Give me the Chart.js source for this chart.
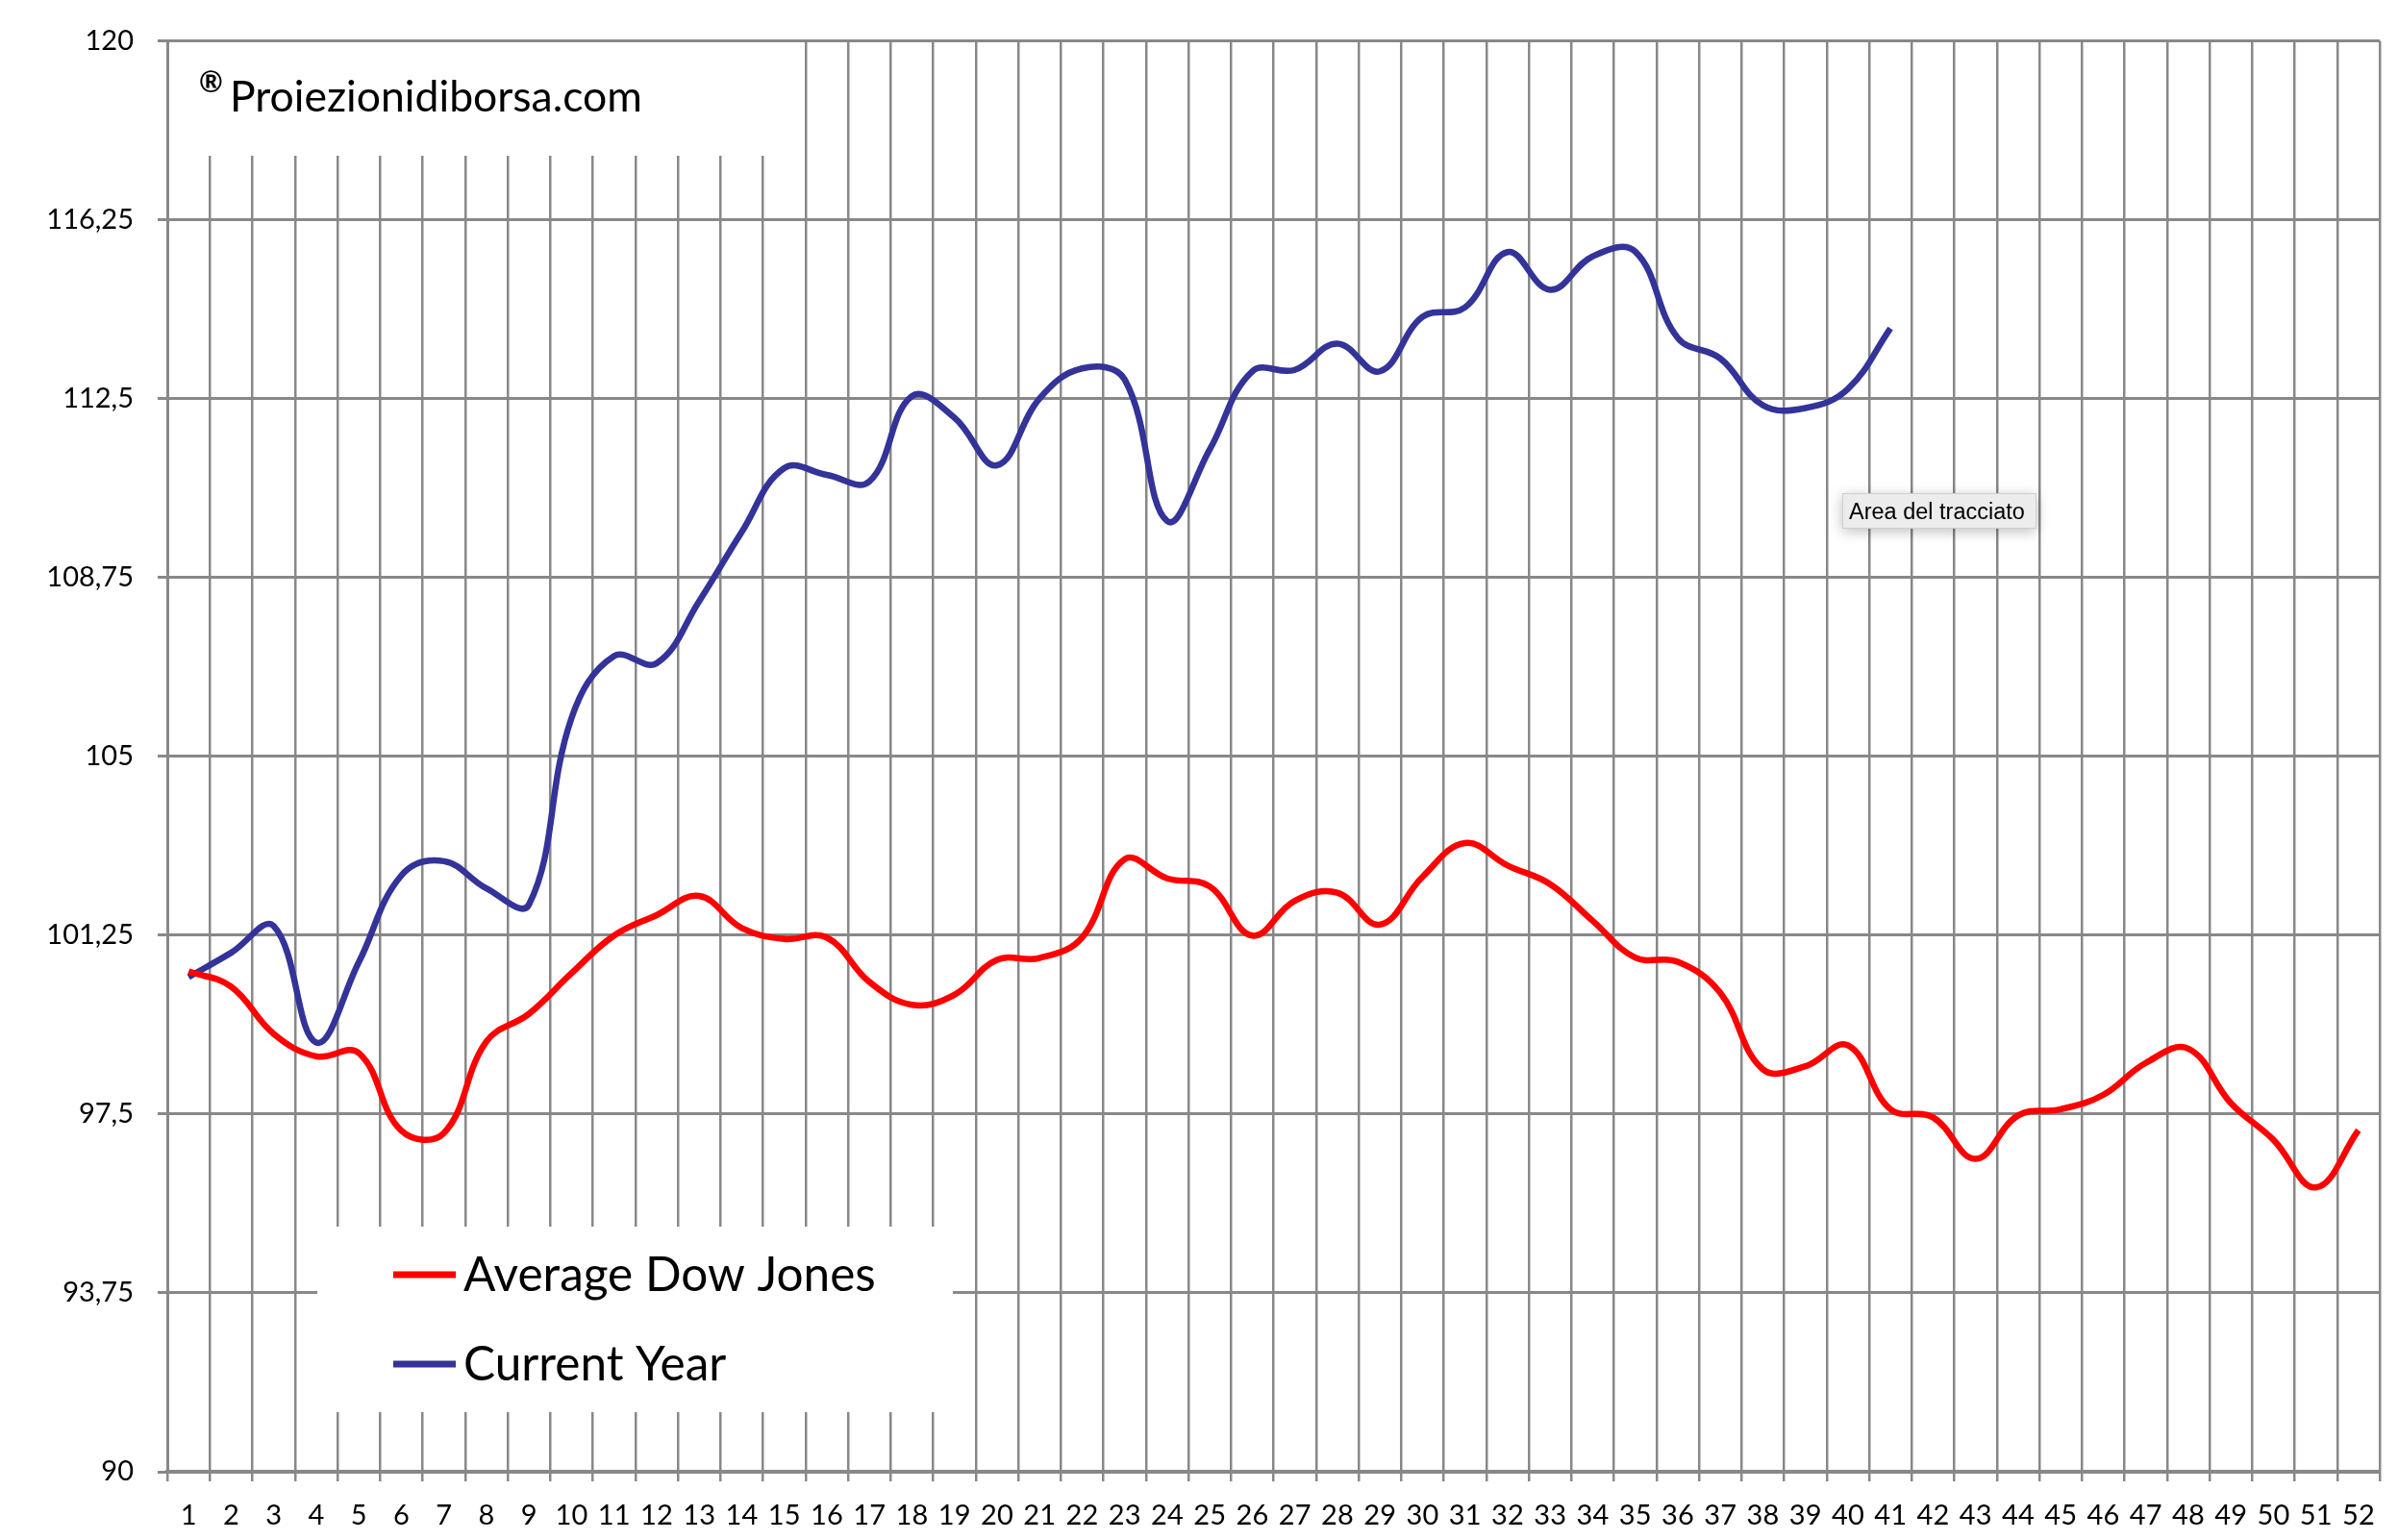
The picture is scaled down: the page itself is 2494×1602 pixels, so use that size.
<!DOCTYPE html>
<html>
<head>
<meta charset="utf-8">
<title>Average Dow Jones vs Current Year</title>
<script src="https://cdn.jsdelivr.net/npm/chart.js@4.4.1/dist/chart.umd.min.js"></script>
<style>
    html, body { margin: 0; padding: 0; background: #ffffff; }
    canvas { display: block; }
</style>
</head>
<body>
<canvas id="myChart" width="2494" height="1602" style="width:2494px;height:1602px"></canvas>
<script>
var weeks = ["1", "2", "3", "4", "5", "6", "7", "8", "9", "10", "11", "12", "13",
    "14", "15", "16", "17", "18", "19", "20", "21", "22", "23", "24", "25", "26",
    "27", "28", "29", "30", "31", "32", "33", "34", "35", "36", "37", "38", "39",
    "40", "41", "42", "43", "44", "45", "46", "47", "48", "49", "50", "51", "52"];

var averageDowJones = [100.49, 100.17, 99.18, 98.71, 98.78, 97.15, 97.1, 99.02, 99.6, 100.45,
    101.24, 101.67, 102.07, 101.4, 101.17, 101.2, 100.27, 99.79, 100.0, 100.73,
    100.77, 101.2, 102.84, 102.44, 102.27, 101.24, 101.97, 102.14, 101.47, 102.47,
    103.18, 102.71, 102.32, 101.55, 100.78, 100.69, 100.04, 98.44, 98.5, 98.94,
    97.6, 97.43, 96.56, 97.47, 97.6, 97.9, 98.57, 98.87, 97.73, 96.96,
    95.96, 97.16];

var currentYear = [100.37, 100.88, 101.44, 99.0, 100.68, 102.5, 102.8, 102.23, 101.89, 105.8,
    107.1, 106.95, 108.25, 109.7, 111.04, 110.9, 110.76, 112.55, 112.1, 111.1,
    112.5, 113.13, 112.9, 109.93, 111.43, 113.07, 113.1, 113.65, 113.07, 114.21,
    114.41, 115.57, 114.78, 115.48, 115.58, 113.77, 113.34, 112.36, 112.3, 112.7,
    113.97];

var yTickValues = [90, 93.75, 97.5, 101.25, 105, 108.75, 112.5, 116.25, 120];
var yTickLabels = ["90", "93,75", "97,5", "101,25", "105", "108,75", "112,5", "116,25", "120"];

var watermarkText = "Proiezionidiborsa.com";
var hintText = "Area del tracciato";

var gridColor = "#888888";

// white boxes behind the watermark and the legend, then their text
var overlayPlugin = {
    id: "overlays",
    beforeDatasetsDraw: function (chart) {
        var ctx = chart.ctx;
        ctx.save();
        ctx.fillStyle = "#ffffff";
        ctx.fillRect(177, 44, 645, 118);
        ctx.fillRect(330, 1276, 661, 193);

        ctx.fillStyle = "#000000";
        ctx.textBaseline = "alphabetic";
        ctx.font = "bold 30px Lato";
        ctx.fillText("\u00AE", 207, 96);
        ctx.font = "44.5px Lato";
        ctx.fillText(watermarkText, 239, 116);

        var rows = [1326, 1419];
        ctx.font = "49.5px Lato";
        chart.data.datasets.forEach(function (ds, i) {
            ctx.strokeStyle = ds.borderColor;
            ctx.lineWidth = 7;
            ctx.beginPath();
            ctx.moveTo(409, rows[i]);
            ctx.lineTo(474, rows[i]);
            ctx.stroke();
            ctx.fillStyle = "#000000";
            ctx.fillText(ds.label, 482, rows[i] + 17);
        });
        ctx.restore();
    },
    afterDraw: function (chart) {
        var ctx = chart.ctx;
        ctx.save();
        ctx.shadowColor = "rgba(0, 0, 0, 0.25)";
        ctx.shadowBlur = 14;
        ctx.shadowOffsetY = 3;
        ctx.fillStyle = "#ececec";
        ctx.fillRect(1916, 513, 202, 37);
        ctx.shadowColor = "transparent";
        ctx.strokeStyle = "#cfcfcf";
        ctx.lineWidth = 1;
        ctx.strokeRect(1916.5, 513.5, 201, 36);
        ctx.fillStyle = "#000000";
        ctx.font = "23.5px 'Liberation Sans'";
        ctx.textBaseline = "alphabetic";
        ctx.fillText(hintText, 1923, 540);
        ctx.restore();
    }
};

function drawChart() {
    var ctx = document.getElementById("myChart").getContext("2d");
    new Chart(ctx, {
        type: "line",
        data: {
            labels: weeks,
            datasets: [
                {
                    label: "Average Dow Jones",
                    data: averageDowJones,
                    borderColor: "#ff0000",
                    borderWidth: 6.5,
                    pointRadius: 0,
                    tension: 0.4,
                    fill: false,
                },
                {
                    label: "Current Year",
                    data: currentYear,
                    borderColor: "#333399",
                    borderWidth: 6.5,
                    pointRadius: 0,
                    tension: 0.4,
                    fill: false,
                },
            ],
        },
        options: {
            responsive: false,
            devicePixelRatio: 1,
            animation: false,
            layout: {
                padding: { top: 35, right: 19, left: 0, bottom: 0 },
            },
            plugins: {
                legend: { display: false },
                tooltip: { enabled: false },
            },
            scales: {
                x: {
                    type: "category",
                    offset: true,
                    grid: {
                        offset: true,
                        color: gridColor,
                        lineWidth: 2.5,
                        tickLength: 10,
                    },
                    border: { color: gridColor, width: 4 },
                    ticks: {
                        autoSkip: false,
                        maxRotation: 0,
                        minRotation: 0,
                        color: "#000000",
                        font: { family: "Lato", size: 29 },
                        padding: 18,
                    },
                    afterFit: function (scale) {
                        scale.height = 71;
                    },
                },
                y: {
                    min: 90,
                    max: 120,
                    afterBuildTicks: function (scale) {
                        scale.ticks = yTickValues.map(function (v) {
                            return { value: v };
                        });
                    },
                    grid: {
                        color: gridColor,
                        lineWidth: 3,
                        tickLength: 10,
                    },
                    border: { color: gridColor, width: 3 },
                    ticks: {
                        color: "#000000",
                        font: { family: "Lato", size: 29 },
                        padding: 25,
                        callback: function (value) {
                            return yTickLabels[yTickValues.indexOf(value)];
                        },
                    },
                    afterFit: function (scale) {
                        scale.width = 174;
                    },
                },
            },
        },
        plugins: [overlayPlugin],
    });
}

window.onload = drawChart;
</script>
</body>
</html>
